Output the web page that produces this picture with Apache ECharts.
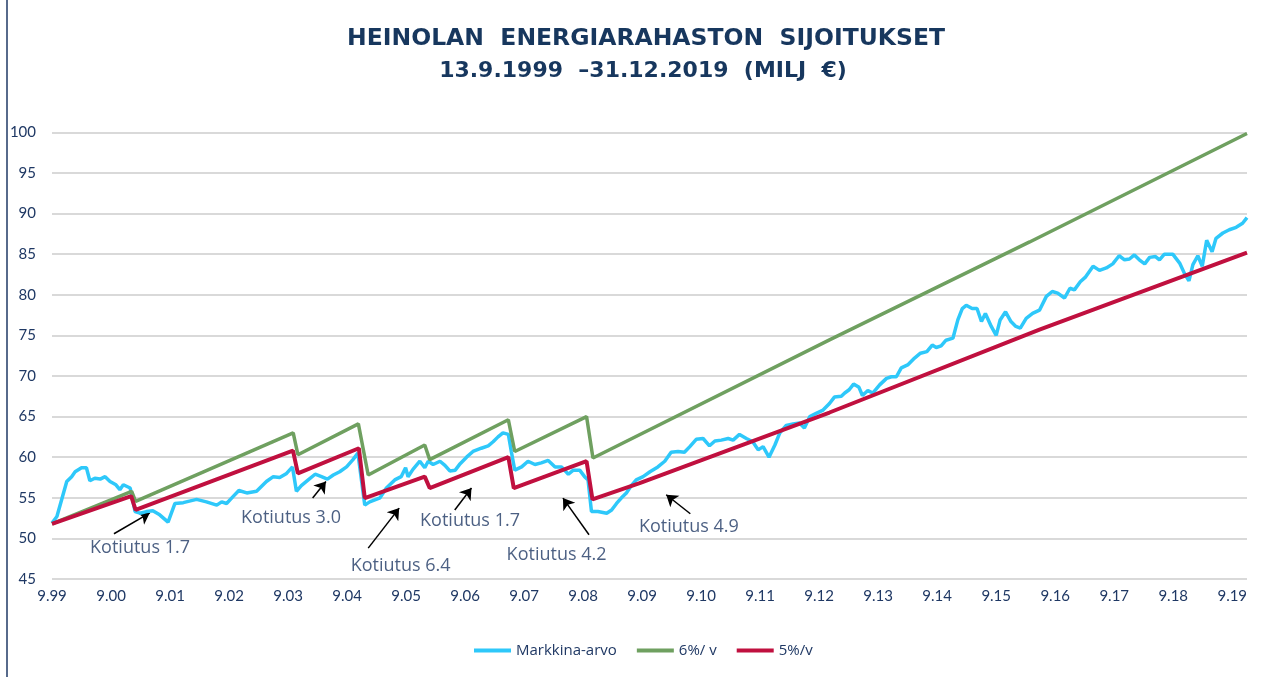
<!DOCTYPE html>
<html>
<head>
<meta charset="utf-8">
<script src="https://cdn.jsdelivr.net/npm/echarts@6/dist/echarts.min.js"></script>
<style>
html,body{margin:0;padding:0;background:#fff;}
#chart{width:1271px;height:677px;}
</style>
</head>
<body>
<div id="chart"></div>
<script>
// x values are months counted from September 1999
const xTickLabels = ['9.99','9.00','9.01','9.02','9.03','9.04','9.05','9.06','9.07','9.08','9.09','9.10','9.11','9.12','9.13','9.14','9.15','9.16','9.17','9.18','9.19'];

const marketMonths = [0,1,3,4,4.7,6,7,7.7,8.7,9.8,10.8,11.8,13,13.8,14.5,15.9,16.4,16.9,17.9,19.2,20.5,21.9,23.6,25,26.7,29.4,31.4,33.5,34.5,35.5,36.9,38,39.6,41.6,43.6,45,46.3,47.7,48.9,49.7,50.7,52.1,53.5,54.8,56,57.2,58.5,59.9,61.2,62.2,63.6,64.6,66.7,68,69.7,71,71.9,72.4,73.4,74.8,75.8,76.5,77.5,78.9,79.9,80.9,82,83,84.3,85.6,87.3,88.7,89.7,90.7,91.7,92.8,93.4,94.1,95.5,96.8,98.2,99.5,100.9,102.3,103.6,105,106,107.3,108.3,109,109.7,111,112.8,113.8,114.8,115.8,116.8,117.8,118.8,120.2,121.6,123.2,124.6,125.9,127.3,128.6,129.7,131,132.4,133.7,134.8,136.1,137.5,138.5,139.8,141.2,142.5,143.6,144.6,145.8,147,148,149.3,150.7,152,153,154.1,155.4,156.8,158.1,159.1,160.5,161.2,162.1,163,164.1,164.8,165.9,166.9,168.3,169.7,170.7,171.7,172.7,174.1,175.4,176.6,177.9,179,179.8,180.8,181.8,183.2,184.2,185.1,185.9,187.1,188.1,189,189.8,191,192,192.8,193.9,195,196,196.9,198.1,199.4,200.8,202.2,203.4,204.5,205.9,207,207.9,209.1,210.2,211.7,213,214.4,215.7,217,218.1,219.1,220.1,221.1,222.2,223.2,224.4,225.2,226.2,227.9,229.3,230.3,231.2,232,233,233.9,234.8,235.9,236.7,238.1,239.4,240.8,242.1,243];
const marketValues = [51.9,52.7,57.0,57.6,58.2,58.7,58.7,57.1,57.4,57.3,57.6,57.0,56.6,56.0,56.6,56.2,54.7,53.3,53.1,53.3,53.4,52.9,52.0,54.3,54.4,54.8,54.5,54.1,54.5,54.3,55.2,55.9,55.6,55.8,57.0,57.6,57.5,58.0,58.8,55.8,56.5,57.2,57.9,57.6,57.3,57.8,58.2,58.8,59.7,60.5,54.1,54.5,55.0,56.2,57.2,57.6,58.7,57.6,58.5,59.5,58.7,59.5,59.1,59.5,59.0,58.3,58.4,59.2,60.0,60.7,61.1,61.4,61.9,62.5,63.0,62.8,60.7,58.4,58.8,59.5,59.1,59.3,59.6,58.8,58.8,57.9,58.4,58.4,57.6,57.2,53.3,53.3,53.1,53.5,54.3,55.0,55.6,56.5,57.2,57.6,58.2,58.8,59.5,60.6,60.7,60.6,61.3,62.2,62.3,61.4,62.0,62.1,62.3,62.1,62.8,62.3,61.9,60.9,61.3,60.0,61.5,63.0,63.9,64.1,64.2,63.6,65.0,65.4,65.8,66.6,67.4,67.5,67.9,68.3,69.0,68.6,67.6,68.2,67.9,68.9,69.7,69.9,69.9,71.0,71.4,72.2,72.8,73.0,73.8,73.5,73.7,74.4,74.65,76.9,78.3,78.7,78.3,78.3,76.7,77.7,76.1,75.0,76.9,77.9,76.7,76.1,75.9,77.1,77.7,78.1,79.8,80.4,80.2,79.6,80.8,80.6,81.6,82.2,83.5,83.0,83.3,83.8,84.8,84.3,84.4,84.9,84.3,83.8,84.6,84.7,84.3,85.0,85.0,83.9,82.6,81.7,83.7,84.8,83.5,86.7,85.3,86.95,87.6,88.0,88.3,88.8,89.5];

const greenMonths = [0,16.2,17,49.05,50,62.3,64.3,75.8,76.8,92.8,94.1,108.7,110,158.1,198.8,243];
const greenValues = [51.8,55.8,54.55,63.0,60.3,64.1,57.8,61.5,59.7,64.6,60.7,65.0,59.9,74.45,86.5,99.85];

const redMonths = [0,16.1,17,49,50,62.4,63.6,75.8,76.8,92.8,93.9,108.7,109.9,119.5,158.1,200.8,243];
const redValues = [51.8,55.2,53.5,60.8,58.0,61.1,54.96,57.6,56.2,60.0,56.2,59.5,54.8,56.8,65.5,75.7,85.2];

const noteTexts = ['Kotiutus 1.7','Kotiutus 3.0','Kotiutus 6.4','Kotiutus 1.7','Kotiutus 4.2','Kotiutus 4.9'];
const noteTextAt = [[17.9,48.85],[48.6,52.54],[70.9,46.63],[85.0,52.17],[102.6,47.98],[129.5,51.44]];
const noteArrowFrom = [[12.6,50.57],[53.0,54.97],[64.3,48.8],[81.9,53.5],[109.2,50.45],[129.8,53.03]];
const noteArrowTo = [[19.9,53.15],[55.7,57.0],[70.6,53.73],[85.3,56.2],[103.9,54.96],[124.9,55.37]];

const titleLines = ['HEINOLAN  ENERGIARAHASTON  SIJOITUKSET', '13.9.1999  –31.12.2019  (MILJ  €)'];
const seriesNames = ['Markkina-arvo','6%/ v','5%/v'];
const navy = '#1f3864';

function pairs(xs, ys){ return xs.map((x,i)=>[x, ys[i]]); }

const chart = echarts.init(document.getElementById('chart'), null, {renderer:'canvas'});
chart.setOption({
  backgroundColor:'#ffffff',
  animation:false,
  title:[
    {text:titleLines[0], left:641, textAlign:'center', top:22,
     textStyle:{fontFamily:'DejaVu Sans', fontWeight:'bold', fontSize:23.5, color:'#17375e'}},
    {text:titleLines[1], left:638, textAlign:'center', top:55,
     textStyle:{fontFamily:'DejaVu Sans', fontWeight:'bold', fontSize:22, color:'#17375e'}}
  ],
  grid:{left:52, right:24, top:132.3, bottom:98},
  legend:{
    data:seriesNames.map(n=>({name:n})),
    bottom:14, left:469,
    icon:'rect', itemWidth:37, itemHeight:4, itemGap:20,
    textStyle:{fontFamily:'Open Sans', fontSize:15, color:navy}
  },
  xAxis:{
    type:'value', min:0, max:243, interval:12,
    axisLine:{show:false}, axisTick:{show:false}, splitLine:{show:false},
    axisLabel:{
      fontFamily:'Lato', fontSize:15, color:navy, margin:10, showMaxLabel:false,
      formatter:function(v){ return (v % 12 === 0) ? (xTickLabels[v/12] || '') : ''; }
    }
  },
  yAxis:{
    type:'value', min:45, max:100, interval:5,
    axisLine:{show:false}, axisTick:{show:false},
    splitLine:{lineStyle:{color:'#d9d9d9', width:2}},
    axisLabel:{fontFamily:'Lato', fontSize:15, color:navy, margin:16}
  },
  graphic:[
    {type:'line', shape:{x1:7,y1:0,x2:7,y2:677}, style:{stroke:navy, lineWidth:1.5}}
  ],
  series:[
    {name:seriesNames[0], type:'line', data:pairs(marketMonths, marketValues), showSymbol:false,
     lineStyle:{color:'#2ec8fa', width:3.5}, itemStyle:{color:'#2ec8fa'}},
    {name:seriesNames[1], type:'line', data:pairs(greenMonths, greenValues), showSymbol:false,
     lineStyle:{color:'#6fa060', width:3.5}, itemStyle:{color:'#6fa060'}},
    {name:seriesNames[2], type:'line', data:pairs(redMonths, redValues), showSymbol:false,
     lineStyle:{color:'#c0103f', width:4}, itemStyle:{color:'#c0103f'}},
    {type:'lines', coordinateSystem:'cartesian2d', silent:true,
     symbol:['none','arrow'], symbolSize:11,
     lineStyle:{color:'#000', width:1.5, opacity:1},
     data:noteArrowFrom.map((f,i)=>({coords:[f, noteArrowTo[i]]}))},
    {type:'scatter', symbolSize:0, silent:true,
     label:{show:true, position:'inside', fontFamily:'Open Sans', fontSize:18, color:navy,
            formatter:function(p){ return noteTexts[p.dataIndex]; }},
     data:noteTextAt}
  ]
});
</script>
</body>
</html>
